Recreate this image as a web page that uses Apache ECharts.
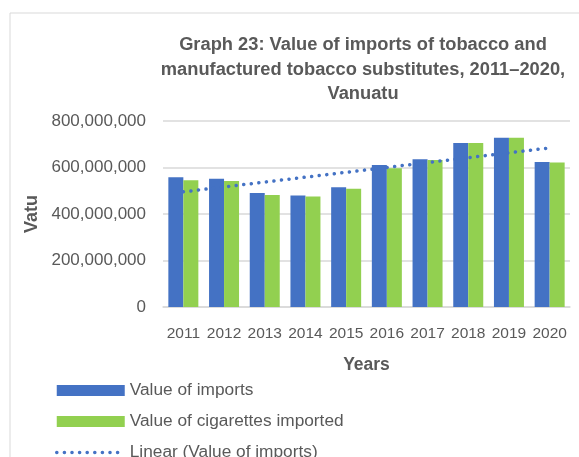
<!DOCTYPE html>
<html>
<head>
<meta charset="utf-8">
<script src="https://cdn.jsdelivr.net/npm/echarts@6/dist/echarts.min.js"></script>
<style>
  html, body { margin: 0; padding: 0; background: #fff; }
  #chart { width: 579px; height: 457px; }
</style>
</head>
<body>
<div id="chart"></div>
<script>
// data
let years = ['2011','2012','2013','2014','2015','2016','2017','2018','2019','2020'];
let imports = [558e6, 552e6, 490e6, 480e6, 515e6, 611e6, 635e6, 705e6, 728e6, 624e6];
let cigarettes = [545e6, 542e6, 482e6, 475e6, 509e6, 597e6, 632e6, 705e6, 728e6, 622e6];

// linear trend of imports (least squares, like the spreadsheet trendline)
function linearTrend(vals){
    let n = vals.length, sx = 0, sy = 0, sxy = 0, sxx = 0;
    for (let i = 0; i < n; i++) {
        sx += i; sy += vals[i]; sxy += i * vals[i]; sxx += i * i;
    }
    let b = (n * sxy - sx * sy) / (n * sxx - sx * sx);
    let a = (sy - b * sx) / n;
    return vals.map((v, i) => a + b * i);
}
let trend = linearTrend(imports);

let txt = '#595959';
let font = 'Liberation Sans';
let dots = { color: '#4472C4', width: 3.5, type: [0.1, 7.5], cap: 'round' };

let option = {
    animation: false,
    graphic: [{
        type: 'rect',
        shape: { x: 10, y: 13, width: 620, height: 500 },
        style: { fill: 'none', stroke: '#d9d9d9', lineWidth: 1 }
    }],
    title: {
        text: 'Graph 23: Value of imports of tobacco and\nmanufactured tobacco substitutes, 2011–2020,\nVanuatu',
        left: 358,
        top: 28,
        textAlign: 'center',
        textStyle: { fontFamily: font, fontSize: 18.3, fontWeight: 'bold', color: txt, lineHeight: 24.5 }
    },
    legend: {
        orient: 'vertical',
        left: 50,
        top: 377,
        height: 120,
        itemWidth: 68,
        itemHeight: 11,
        itemGap: 14,
        textStyle: { fontFamily: font, fontSize: 17.3, color: txt },
        data: [
            { name: 'Value of imports', icon: 'rect' },
            { name: 'Value of cigarettes imported', icon: 'rect' },
            { name: 'Linear (Value of imports)', itemStyle: { opacity: 0 }, lineStyle: dots }
        ]
    },
    grid: { left: 163, right: 9, top: 121, bottom: 150 },
    xAxis: {
        type: 'category',
        data: years,
        name: 'Years',
        nameLocation: 'middle',
        nameGap: 49,
        nameTextStyle: { fontFamily: font, fontSize: 17.5, fontWeight: 'bold', color: txt },
        axisLine: { lineStyle: { color: '#d9d9d9', width: 1.5 } },
        axisTick: { show: false },
        axisLabel: { interval: 0, fontFamily: font, fontSize: 15.5, color: txt, margin: 19 }
    },
    yAxis: {
        type: 'value',
        min: 0,
        max: 800e6,
        interval: 200e6,
        name: 'Vatu',
        nameLocation: 'middle',
        nameGap: 122,
        nameTextStyle: { fontFamily: font, fontSize: 18, fontWeight: 'bold', color: txt },
        axisLine: { show: false },
        axisTick: { show: false },
        splitLine: { lineStyle: { color: '#d9d9d9', width: 1.5 } },
        axisLabel: {
            fontFamily: font, fontSize: 17, color: txt, margin: 17,
            formatter: v => v.toLocaleString('en-US')
        }
    },
    series: [
        {
            name: 'Value of imports',
            type: 'bar',
            data: imports,
            barWidth: 15,
            barGap: '0%',
            itemStyle: { color: '#4472C4' }
        },
        {
            name: 'Value of cigarettes imported',
            type: 'bar',
            data: cigarettes,
            barWidth: 15,
            barGap: '0%',
            itemStyle: { color: '#92D050' }
        },
        {
            name: 'Linear (Value of imports)',
            type: 'line',
            data: trend,
            symbol: 'none',
            z: 5,
            itemStyle: { color: '#4472C4' },
            lineStyle: dots
        }
    ]
};

let chart = echarts.init(document.getElementById('chart'));
chart.setOption(option);
</script>
</body>
</html>
